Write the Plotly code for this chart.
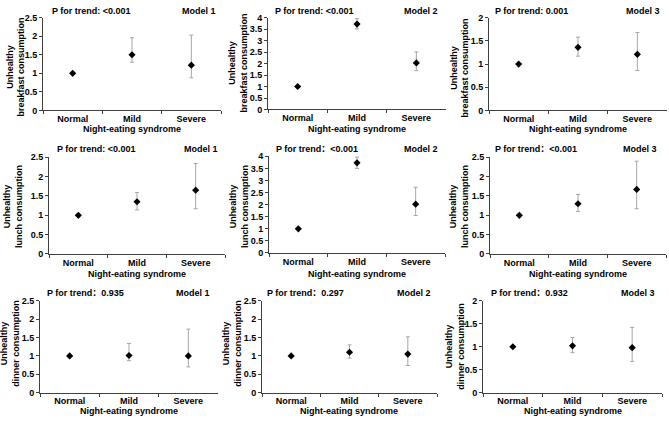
import plotly.graph_objects as go

W, H = 669, 423

categories = ["Normal", "Mild", "Severe"]
meals = ["breakfast", "lunch", "dinner"]
models = ["Model 1", "Model 2", "Model 3"]

# OR values, lower and upper CI per meal (row) and model (column)
breakfast_m1 = [1.0, 1.50, 1.22]; breakfast_m1_lo = [None, 1.30, 0.88]; breakfast_m1_hi = [None, 1.96, 2.03]
breakfast_m2 = [1.0, 3.72, 2.03]; breakfast_m2_lo = [None, 3.51, 1.69]; breakfast_m2_hi = [None, 3.96, 2.51]
breakfast_m3 = [1.0, 1.36, 1.21]; breakfast_m3_lo = [None, 1.17, 0.86]; breakfast_m3_hi = [None, 1.58, 1.68]
lunch_m1 = [1.0, 1.35, 1.65]; lunch_m1_lo = [None, 1.14, 1.17]; lunch_m1_hi = [None, 1.59, 2.34]
lunch_m2 = [1.0, 3.73, 2.02]; lunch_m2_lo = [None, 3.50, 1.55]; lunch_m2_hi = [None, 3.97, 2.72]
lunch_m3 = [1.0, 1.30, 1.67]; lunch_m3_lo = [None, 1.10, 1.17]; lunch_m3_hi = [None, 1.54, 2.40]
dinner_m1 = [1.0, 1.01, 1.00]; dinner_m1_lo = [None, 0.87, 0.70]; dinner_m1_hi = [None, 1.34, 1.73]
dinner_m2 = [1.0, 1.10, 1.05]; dinner_m2_lo = [None, 0.94, 0.74]; dinner_m2_hi = [None, 1.30, 1.52]
dinner_m3 = [1.0, 1.02, 0.98]; dinner_m3_lo = [None, 0.87, 0.68]; dinner_m3_hi = [None, 1.20, 1.42]

y_max = [[2.5, 4, 2], [2.5, 4, 2.5], [2.5, 2.5, 2]]
p_texts = [
    ["P for trend: <0.001", "P for trend: <0.001", "P for trend: 0.001"],
    ["P for trend: <0.001", "P for trend：<0.001", "P for trend：<0.001"],
    ["P for trend：0.935", "P for trend：0.297", "P for trend：0.932"],
]
x_title = "Night-eating syndrome"

series = [
    [(breakfast_m1, breakfast_m1_lo, breakfast_m1_hi), (breakfast_m2, breakfast_m2_lo, breakfast_m2_hi), (breakfast_m3, breakfast_m3_lo, breakfast_m3_hi)],
    [(lunch_m1, lunch_m1_lo, lunch_m1_hi), (lunch_m2, lunch_m2_lo, lunch_m2_hi), (lunch_m3, lunch_m3_lo, lunch_m3_hi)],
    [(dinner_m1, dinner_m1_lo, dinner_m1_hi), (dinner_m2, dinner_m2_lo, dinner_m2_hi), (dinner_m3, dinner_m3_lo, dinner_m3_hi)],
]

# layout geometry in pixels: (x0, x1, ytop, ybottom)
boxes = [
    [(43, 221, 13, 108), (268, 446, 13, 107), (489, 667, 13, 108)],
    [(49, 225, 156, 255), (269, 445, 155, 254), (490, 666, 156, 255)],
    [(40, 218, 303, 397), (262, 437, 303, 397), (483, 662, 303, 397)],
]
ytitle_pos = [[(16, 64), (238, 60), (460, 64)], [(13, 207), (239, 207), (459, 207)], [(10, 347), (232, 347), (455, 350)]]
xtitle_y = [127, 275.5, 416]
p_pos = [[(50, 6), (273, 6), (493, 6)], [(55, 147), (274, 147), (493, 147)], [(45, 295), (265, 295), (489, 295)]]
model_pos = [[(218, 6), (440, 6), (662, 6)], [(220, 147), (440, 147), (659, 147)], [(212, 295), (433, 295), (657, 295)]]

FONT = "Liberation Sans, Arial, Noto Sans CJK SC, sans-serif"
FS = 9
AXC = "#404040"

fig = go.Figure()
annotations = []
layout = {}

def px(x):
    return x / W

def py(y):
    return 1 - y / H

k = 0
for r in range(3):
    for c in range(3):
        k += 1
        vals, lo, hi = series[r][c]
        plus = [0 if h is None else h - v for v, h in zip(vals, hi)]
        minus = [0 if l is None else v - l for v, l in zip(vals, lo)]
        xa = "x" if k == 1 else f"x{k}"
        ya = "y" if k == 1 else f"y{k}"
        fig.add_trace(go.Scatter(
            x=categories, y=vals, mode="markers", xaxis=xa, yaxis=ya,
            marker=dict(symbol="diamond", size=5.5, color="black"),
            error_y=dict(type="data", symmetric=False, array=plus, arrayminus=minus,
                         color="#a6a6a6", thickness=1, width=2),
            showlegend=False, cliponaxis=False,
        ))
        x0, x1, yt, yb = boxes[r][c]
        xname = "xaxis" if k == 1 else f"xaxis{k}"
        yname = "yaxis" if k == 1 else f"yaxis{k}"
        layout[xname] = dict(
            domain=[px(x0), px(x1)], anchor=ya, type="category",
            range=[-0.5, 2.5], showline=True, linecolor=AXC, linewidth=1,
            ticks="outside", tickson="boundaries", ticklen=3, tickcolor=AXC,
            showgrid=False, zeroline=False, fixedrange=True,
            tickfont=dict(family=FONT, size=FS, color="black", weight="bold"),
        )
        layout[yname] = dict(
            domain=[py(yb), py(yt)], anchor=xa, range=[0, y_max[r][c]], dtick=0.5,
            showline=True, linecolor=AXC, linewidth=1, ticks="outside", ticklen=3,
            tickcolor=AXC, showgrid=False, zeroline=False, fixedrange=True,
            tickfont=dict(family=FONT, size=FS, color="black", weight="bold"),
        )
        tx, ty = ytitle_pos[r][c]
        annotations.append(dict(
            text=f"Unhealthy<br>{meals[r]} consumption", x=px(tx), y=py(ty),
            xref="paper", yref="paper", xanchor="center", yanchor="middle",
            textangle=-90, showarrow=False,
            font=dict(family=FONT, size=FS, color="black", weight="bold"),
        ))
        annotations.append(dict(
            text=x_title, x=px((x0 + x1) / 2), y=py(xtitle_y[r]),
            xref="paper", yref="paper", xanchor="center", yanchor="middle",
            showarrow=False, font=dict(family=FONT, size=FS, color="black", weight="bold"),
        ))
        ptx, pty = p_pos[r][c]
        annotations.append(dict(
            text=p_texts[r][c], x=px(ptx), y=py(pty),
            xref="paper", yref="paper", xanchor="left", yanchor="middle",
            showarrow=False, font=dict(family=FONT, size=FS, color="black", weight="bold"),
        ))
        mx, my = model_pos[r][c]
        annotations.append(dict(
            text=models[c], x=px(mx), y=py(my),
            xref="paper", yref="paper", xanchor="right", yanchor="middle",
            showarrow=False, font=dict(family=FONT, size=FS, color="black", weight="bold"),
        ))

fig.update_layout(
    width=W, height=H, margin=dict(l=0, r=0, t=0, b=0),
    paper_bgcolor="white", plot_bgcolor="white",
    annotations=annotations, **layout,
)

fig.write_html("out.html")
